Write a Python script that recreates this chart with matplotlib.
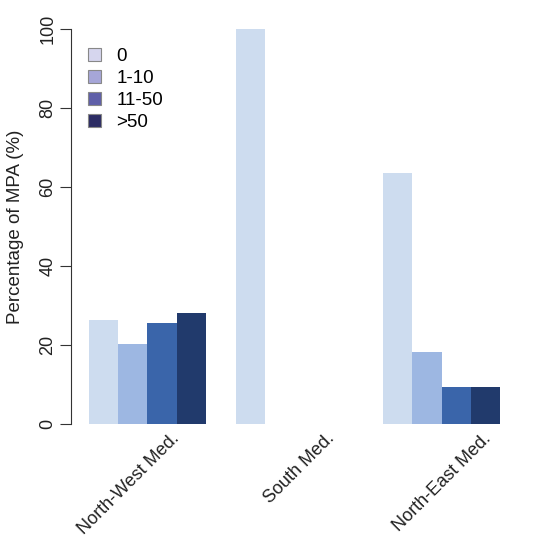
import matplotlib
matplotlib.use("Agg")
import matplotlib.pyplot as plt
from matplotlib.patches import Patch
import numpy as np

plt.rcParams['font.family'] = ['Liberation Sans', 'DejaVu Sans']

regions = ["North-West Med.", "South Med.", "North-East Med."]
classes = ["0", "1-10", "11-50", ">50"]
values = {
    "0":     [26.4, 100.0, 63.5],
    "1-10":  [20.3, 0.0, 18.2],
    "11-50": [25.7, 0.0, 9.4],
    ">50":   [28.0, 0.0, 9.4],
}
yticks = [0, 20, 40, 60, 80, 100]

bar_colors = ["#cddcef", "#9db7e2", "#3a65aa", "#213a6c"]
legend_colors = ["#d6d6ee", "#a6a6d8", "#5f5fa8", "#2c2c64"]

fig = plt.figure(figsize=(5.56, 5.41), dpi=100)
ax = fig.add_axes([71/556, 1 - 440/541, 447/556, (440 - 13)/541])

nclass = len(classes)
group_step = nclass + 1
for gi, reg in enumerate(regions):
    for ci, c in enumerate(classes):
        x = gi * group_step + ci + 0.5
        ax.bar(x, values[c][gi], width=1.0, color=bar_colors[ci], edgecolor='none')

ax.set_xlim(-0.6, 14.6)
ax.set_ylim(-4, 104)

for s in ["top", "right", "bottom"]:
    ax.spines[s].set_visible(False)
ax.spines["left"].set_bounds(0, 100)
ax.spines["left"].set_color("#333333")
ax.spines["left"].set_linewidth(0.8)
ax.set_yticks(yticks)
ax.set_yticklabels([str(t) for t in yticks], rotation=90, va='center', fontsize=13, color="#222222")
ax.tick_params(axis='y', length=8, width=0.8, color="#333333", pad=2.5)
ax.set_xticks([])
ax.set_ylabel("Percentage of MPA (%)", fontsize=13.5, color="#222222", labelpad=11)

# rotated group labels
label_offsets = [1.0, 1.27, 1.6]
for gi, reg in enumerate(regions):
    xc = gi * group_step + nclass / 2
    ax.text(xc + label_offsets[gi], -3.0, reg, rotation=45, ha='right', va='center',
            rotation_mode='anchor', fontsize=13, color="#222222", clip_on=False)

handles = [Patch(facecolor=legend_colors[i], edgecolor="#888888", linewidth=0.8, label=classes[i])
           for i in range(nclass)]
leg = ax.legend(handles=handles, loc='upper left', bbox_to_anchor=(0.022, 0.935), frameon=False,
                fontsize=13.5, handlelength=0.7, handleheight=0.7, handletextpad=0.8,
                labelspacing=0.25, borderaxespad=0)

fig.savefig("out.png", dpi=100)
